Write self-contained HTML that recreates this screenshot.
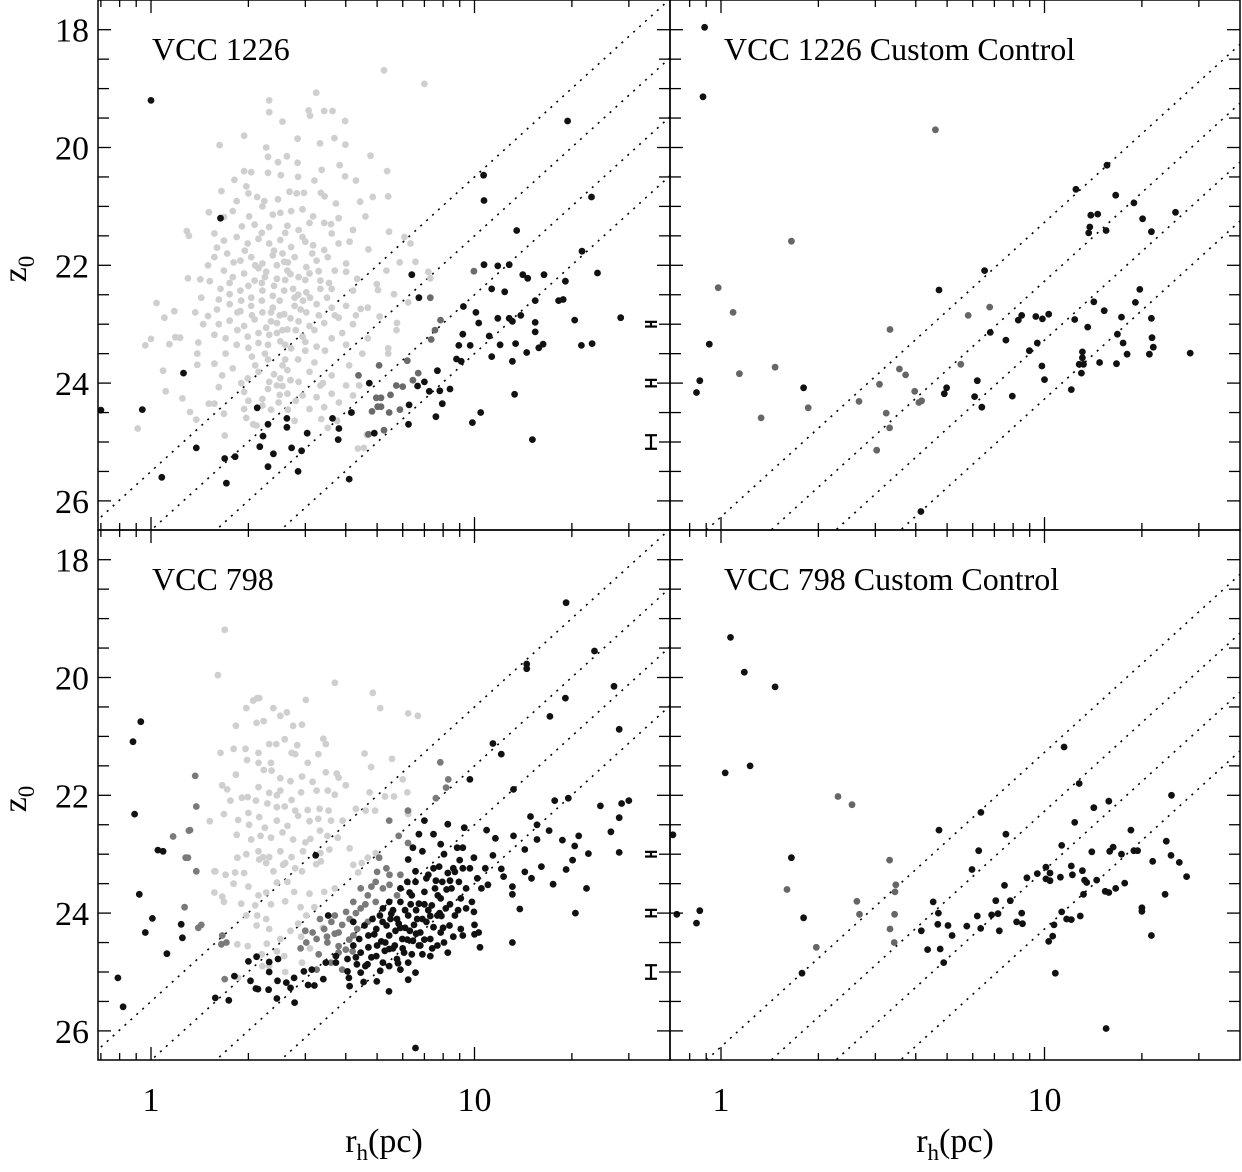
<!DOCTYPE html>
<html><head><meta charset="utf-8"><style>
html,body{margin:0;padding:0;background:#fff;width:1242px;height:1172px;overflow:hidden;}
svg{display:block;font-family:"Liberation Serif",serif;}
</style></head><body>
<svg id="chart" width="1242" height="1172" viewBox="0 0 1242 1172" xmlns="http://www.w3.org/2000/svg"></svg>
<script>
// ---------- data ----------
const yTickLabels=[18,20,22,24,26];
const xTickLabels=[1,10];
const xMinorTicks=[0.7,0.8,0.9,2,3,4,5,6,7,8,9,20,30,40];
const lineZeroPointsLeft=[25.5,26.5,27.5,28.5];
const lineZeroPointsRight=[26.27,27.27,28.27,29.27];
const errorMags=[23,24,25];
const errorSizes=[0.04,0.055,0.115];
const panelTitles=["VCC 1226","VCC 1226 Custom Control","VCC 798","VCC 798 Custom Control"];

const tlLight=[[5.25,18.69],[7.0,18.92],[3.24,19.07],[2.32,19.2],[2.32,19.4],[2.55,19.56],[3.07,19.37],[3.43,19.38],[3.64,19.38],[3.1,19.46],
[1.94,19.8],[1.63,19.96],[2.84,19.85],[3.33,19.93],[3.98,19.55],[3.99,19.95],[3.69,19.84],[4.77,20.14],[5.37,20.4],[2.27,20.0],[2.3,20.16],[2.63,20.15],[2.47,20.25],[1.94,20.4],[2.04,20.42],[2.84,20.26],[3.83,20.3],[3.37,20.38],
[1.81,20.55],[2.3,20.43],[2.52,20.47],[2.85,20.5],[3.2,20.56],[3.98,20.49],[4.3,20.56],[1.65,20.74],[1.97,20.66],[2.0,20.78],[2.13,20.84],[2.24,20.91],[2.47,20.88],[2.68,20.75],[2.82,20.78],[2.97,20.77],[3.35,20.77],[3.44,20.83],[3.73,20.95],[4.43,20.92],[4.85,20.84],[5.41,20.83],[1.51,21.1],[1.84,20.91],[1.68,21.18],[1.79,21.08],[2.01,21.17],[2.21,21.0],[2.38,21.14],[2.51,21.11],[2.71,21.08],[2.94,21.05],[3.17,21.17],[3.43,21.28],[3.8,21.2],[4.6,21.17],[1.29,21.42],[1.31,21.5],[1.57,21.46],[1.91,21.34],[2.09,21.31],[2.32,21.35],[2.64,21.33],[2.86,21.4],[3.09,21.28],[3.62,21.46],[4.21,21.4],[5.44,21.43],
[1.68,21.58],[1.84,21.52],[1.99,21.63],[2.15,21.55],[2.32,21.63],[2.51,21.57],[2.71,21.69],[2.94,21.52],[3.17,21.66],[3.43,21.74],[3.8,21.63],[4.11,21.6],[4.7,21.73],[6.07,21.52],[6.34,21.63],[1.57,21.86],[1.72,21.8],[1.89,21.92],[2.04,21.86],[2.21,21.97],[2.38,21.83],[2.58,21.94],[2.78,21.86],[3.02,22.03],[3.25,21.92],[3.52,21.86],[4.01,21.97],[5.87,21.95],[6.57,21.94],[1.3,22.22],[1.42,22.24],[1.52,22.27],[1.68,22.09],[1.79,22.2],[1.94,22.14],[2.09,22.26],[2.27,22.11],[2.45,22.23],[2.64,22.09],[2.86,22.2],[3.09,22.14],[3.34,22.26],[3.7,22.09],[4.01,22.11],[4.34,22.23],[4.99,22.32],[5.34,22.09],[7.2,22.11],[7.3,22.22],[1.64,22.4],[1.75,22.49],[1.89,22.43],[2.04,22.55],[2.21,22.43],[2.38,22.52],[2.58,22.43],[2.78,22.55],[3.02,22.46],[3.34,22.4],[3.62,22.4],[4.21,22.43],[5.03,22.42],[5.64,22.49],
[1.04,22.64],[1.43,22.55],[1.62,22.58],[1.75,22.66],[1.89,22.78],[2.04,22.69],[2.21,22.8],[2.38,22.72],[2.58,22.83],[2.78,22.69],[3.02,22.8],[3.25,22.66],[3.62,22.72],[4.01,22.69],[4.45,22.74],[4.68,22.72],[6.24,22.63],[1.1,22.89],[1.18,22.78],[1.37,22.8],[1.5,22.86],[1.62,23.0],[1.75,22.94],[1.94,23.03],[2.09,22.92],[2.27,23.06],[2.45,22.98],[2.64,23.09],[2.86,22.95],[3.09,23.03],[3.43,22.98],[3.8,22.89],[4.21,23.0],[5.09,22.87],[5.76,22.98],[5.74,23.1],[0.96,23.36],[1.0,23.25],[1.14,23.34],[1.19,23.22],[1.23,23.23],[1.39,23.5],[1.4,23.31],[1.57,23.18],[1.7,23.24],[1.84,23.35],[1.99,23.21],[2.15,23.32],[2.32,23.18],[2.51,23.29],[2.71,23.41],[2.94,23.21],[3.25,23.38],[3.62,23.24],[4.01,23.35],[4.68,23.24],[5.41,23.41],[5.41,23.5],
[1.09,23.79],[1.11,24.14],[1.25,24.26],[1.39,23.69],[1.57,23.67],[1.66,23.87],[1.79,23.75],[1.99,23.92],[2.15,23.81],[2.32,23.98],[2.45,24.04],[2.51,23.92],[2.64,23.78],[2.86,23.98],[3.09,23.81],[3.34,24.04],[3.62,23.87],[4.01,24.04],[4.4,24.04],[1.62,24.07],[1.94,24.15],[2.21,24.27],[2.64,24.18],[2.94,24.21],[3.25,24.24],[3.62,24.18],[4.21,24.21],[1.32,24.49],[1.51,24.35],[1.57,24.35],[1.68,24.52],[1.94,24.44],[2.21,24.38],[2.48,24.33],[3.09,24.44],[3.43,24.41],[3.81,24.33],
[0.91,24.77],[1.38,24.62],[1.97,24.59],[2.07,24.7],[2.12,24.72],[1.69,24.89],[3.36,24.61],[3.52,24.76],[4.36,25.11],[4.55,25.1],[4.65,24.88],[3.76,24.64],[2.78,24.64],
[2.2,22.3],[2.5,22.6],[2.35,22.95],[2.6,22.25],[2.15,22.05],[2.75,22.4],[2.4,21.75],[2.55,23.1],[2.25,23.5],[2.6,23.6],[2.3,24.1],[2.55,24.05],[2.05,23.55],[1.85,22.8],[2.95,22.6],[2.65,21.95],[2.0,22.35],[1.8,21.95],[3.0,23.45],[2.45,22.0],
[1.95,21.75],[2.1,22.0],[2.25,22.2],[2.4,22.35],[2.55,21.8],[2.7,22.15],[2.85,22.5],[3.0,22.25],[3.15,21.8],[3.3,22.1],[1.9,22.6],[2.05,22.85],[2.2,22.6],[2.35,22.8],[2.5,22.85],[2.7,22.9],[2.9,22.75],[3.1,22.55],[3.3,22.85],[3.5,22.55],
[1.85,23.1],[2.0,23.4],[2.15,23.15],[2.3,23.35],[2.45,23.15],[2.6,23.35],[2.8,23.1],[3.0,23.3],[3.2,23.1],[3.45,23.45],[2.1,23.7],[2.3,23.6],[2.4,23.85],[2.55,23.7],[2.7,23.95],[2.85,23.6],[2.5,24.2],[2.35,24.45],[2.65,24.45],[2.8,24.3],
[1.75,22.3],[1.6,22.75],[1.7,23.5],[1.9,24.0],[3.55,22.3],[3.7,22.85],[3.9,23.15],[4.3,22.85],[4.5,23.5],[3.2,23.65],[3.4,24.0],[1.5,22.0],[1.45,23.0],[1.6,21.7],[2.2,21.45],[2.6,21.45],[3.0,21.6],[3.6,21.3],[2.0,24.3],[4.1,23.7]];
const tlMid=[[9.96,22.1],[7.3,22.55],[7.85,22.93],[7.55,23.1],[7.35,23.26],[6.2,23.62],[6.7,23.83],[6.45,23.95],[6.0,24.06],[5.73,24.04],[5.5,24.2],[5.14,24.25],[4.97,24.25],[5.02,24.4],[5.14,24.4],[4.82,24.48],[5.45,24.5],[5.07,23.7],[4.38,23.87],[4.17,24.5],[4.7,24.87],[5.25,24.8],[5.88,24.45]];
const tlBlack=[[1.0,19.2],[1.64,21.2],[0.7,24.46],[0.94,24.45],[1.26,23.83],[1.08,25.6],[1.38,25.1],[1.69,25.28],[1.71,25.7],[1.82,25.25],[2.13,24.42],[2.3,24.7],[2.22,24.9],[2.17,25.08],[2.39,25.2],[2.3,25.42],[2.63,24.6],[2.63,24.75],[2.72,25.1],[2.92,25.15],[2.85,25.5],[3.04,24.85],[3.64,24.6],[3.81,24.77],[3.79,24.96],[4.16,24.5],[4.1,25.63],[4.73,24.0],[4.9,24.85],[6.4,22.16],[6.73,22.55],[6.28,24.37],[6.25,24.7],[6.67,24.05],[7.0,23.98],[7.25,24.14],[7.68,23.79],[7.81,24.13],[7.95,24.35],[8.4,24.1],[7.6,24.57],[8.8,23.59],[9.1,23.63],[8.94,23.36],[9.24,22.7],[9.2,23.17],[9.7,23.36],[10.1,22.8],[10.3,22.98],[10.67,20.47],[10.7,20.9],[10.7,21.99],[11.3,22.4],[11.1,23.2],[11.3,23.55],[11.8,22.01],[11.8,22.9],[12.0,23.35],[12.4,22.45],[12.8,21.99],[12.8,22.9],[13.1,22.95],[13.4,23.33],[13.1,23.63],[13.3,24.19],[13.9,22.85],[13.5,21.41],[14.1,22.16],[14.6,22.22],[14.5,23.48],[15.4,22.6],[15.4,22.97],[15.4,23.13],[15.8,23.4],[16.3,23.34],[16.4,22.16],[15.1,24.96],[9.85,24.67],[10.45,24.5],[18.2,22.6],[18.8,22.58],[19.1,22.27],[19.4,19.55],[20.4,22.93],[21.4,23.36],[21.5,21.76],[23.0,20.84],[23.1,23.33],[24.0,22.13],[28.3,22.89]];

const blLight=[[1.69,19.19],[1.61,19.96],[3.7,20.09],[4.85,20.26],[3.01,20.38],[2.13,20.35],[2.16,20.35],[1.97,20.52],[2.07,20.39],[6.24,20.61],[6.68,20.65],[5.11,20.52],[2.39,20.52],[2.51,20.65],[2.63,20.59],[2.23,20.74],[2.12,20.77],[2.75,20.82],[2.93,20.8],[1.83,20.82],[3.41,21.04],[3.47,21.13],[1.64,21.28],[1.8,21.21],[1.96,21.21],[1.98,21.4],[2.15,21.28],[2.32,21.13],[2.44,21.13],[2.59,21.05],[2.72,21.28],[2.83,21.15],[2.79,21.3],[3.05,21.45],[3.29,21.3],[4.57,21.29],[5.56,21.38],[4.79,21.52],[6.0,21.73],[6.2,21.95],[2.15,21.45],[2.35,21.45],[2.23,21.57],[2.36,21.58],[2.51,21.71],[2.7,21.76],[2.93,21.68],[3.16,21.77],[3.47,21.61],[3.75,21.63],[3.8,21.7],[4.0,21.83],[1.83,21.65],[1.66,21.83],[1.72,21.9],[2.15,21.86],[2.32,21.96],[2.51,21.92],[2.72,22.08],[2.91,21.95],[3.25,21.92],[3.52,21.92],[3.7,21.99],[4.74,21.95],[5.29,22.02],[5.64,22.02],[1.76,22.09],[1.91,22.04],[1.99,22.03],[2.11,22.09],[2.29,22.14],[2.45,22.2],[2.59,22.19],[2.79,22.26],[3.05,22.25],[3.32,22.23],[3.54,22.26],[4.3,22.23],[4.61,22.26],[4.93,22.26],[6.22,22.26],[6.24,22.32],[1.52,22.44],[1.68,22.32],[1.86,22.42],[2.01,22.5],[2.16,22.37],[2.25,22.55],[2.45,22.43],[2.64,22.52],[2.85,22.35],[3.09,22.44],[3.29,22.4],[3.6,22.43],[3.91,22.43],[1.84,22.67],[2.04,22.75],[2.18,22.69],[2.35,22.72],[2.55,22.63],[2.75,22.75],[3.11,22.74],[3.33,22.6],[3.51,22.69],[3.78,22.72],[1.85,23.06],[1.97,23.0],[2.15,22.95],[2.32,23.05],[2.51,22.95],[2.72,23.05],[2.95,22.95],[3.34,22.98],[3.56,22.92],[4.11,22.9],[4.68,23.06],[4.95,22.98],[1.57,23.29],[1.58,23.29],[1.7,23.35],[1.82,23.31],[1.94,23.32],[2.16,23.09],[2.22,23.05],[2.27,23.15],[2.39,23.29],[2.56,23.18],[2.79,23.24],[2.93,23.29],[3.24,23.17],[3.35,23.12],[4.22,23.18],[4.37,23.31],[4.48,23.15],[1.57,23.65],[1.66,23.72],[1.68,23.81],[1.9,23.84],[1.97,24.04],[2.1,23.87],[2.15,23.7],[2.27,23.65],[2.45,23.48],[2.64,23.47],[2.77,23.64],[3.09,23.67],[3.43,23.64],[3.7,23.58],[2.13,24.04],[2.27,24.1],[2.12,24.21],[2.32,24.27],[2.51,24.44],[2.85,24.18],[3.02,24.04],[2.91,24.4],[1.85,24.53],[1.99,24.56],[2.28,24.52],[2.21,24.9],[2.32,24.9],[2.93,24.84],[1.86,25.1],[2.58,24.73],
[2.0,23.55],[2.35,23.85],[2.6,23.8],[2.9,23.9],[3.2,23.9],[2.7,24.3],[2.45,24.65],[3.1,24.6],[2.2,24.7],[2.6,25.0],[3.4,24.25],[1.8,23.5],[2.45,22.0],[2.0,22.3],[3.0,22.8],[2.6,23.15]];
const blMid=[[1.37,21.67],[1.38,22.19],[1.32,22.59],[1.31,22.6],[1.28,23.06],[1.3,23.06],[1.38,23.29],[1.17,22.7],[1.27,23.9],[1.43,24.2],[1.4,24.25],[1.65,24.53],[1.71,24.5],[1.66,24.38],[1.69,25.12],[7.84,21.44],[8.3,21.73],[8.17,21.87],[7.6,22.05],[6.23,22.26],[5.45,22.43],[5.83,22.69],[6.23,22.81],[5.07,23.06],[5.34,23.24],[5.46,23.35],[5.9,23.35],[4.95,23.47],[5.21,23.58],[4.68,23.7],[4.95,23.81],[4.22,23.81],[4.45,23.92],[4.01,23.98],[4.11,24.1],[3.7,24.04],[3.61,24.15],[3.33,24.1],[3.43,24.27],[3.8,24.33],[4.22,24.38],[3.16,24.33],[3.25,24.44],[3.02,24.5],[3.51,24.5],[3.8,24.56],[4.0,24.62],[4.34,24.27],[4.68,24.15],[5.46,23.52],[5.76,23.7],[3.6,24.84],[3.9,24.96],[3.25,24.96],[3.8,24.67],[4.45,23.58],
[3.5,24.4],[3.9,24.2],[4.3,24.0],[4.6,23.85],[3.0,24.3],[2.9,24.6],[3.3,24.7],[4.1,24.45],[5.0,23.3],[4.8,23.55],[3.7,24.35],[4.2,24.65]];
const blBlack=[[0.79,25.1],[0.82,25.59],[0.88,21.09],[0.93,20.75],[0.89,22.32],[0.92,23.68],[0.96,24.33],[1.01,24.09],[1.05,22.93],[1.09,22.95],[1.12,24.69],[1.24,24.19],[1.25,24.42],[6.57,26.29],[19.2,18.73],[14.5,19.77],[14.5,19.85],[23.5,19.55],[17.1,20.66],[19.1,20.35],[27.0,20.15],[28.0,20.88],[11.4,21.12],[12.1,21.3],[9.68,21.73],[13.2,21.9],[17.7,22.09],[19.5,22.05],[30.0,22.09],[28.5,22.14],[24.5,22.18],[14.9,22.36],[28.0,22.38],[26.4,22.62],[18.7,22.76],[21.0,22.69],[20.4,22.86],[17.0,22.6],[28.0,22.97],[22.5,22.99],[20.1,23.1],[19.2,23.26],[16.1,23.21],[17.5,23.51],[22.2,23.58],[20.5,24.0],[13.8,23.93],[13.1,24.5],[10.4,24.58],[13.1,23.55],[13.1,23.68],[12.3,23.38],[12.1,23.25],[11.4,23.02],[13.2,22.69],[14.3,22.92],[14.3,23.3],[15.0,23.41],[15.6,22.5],[15.6,22.75],[11.6,22.73],[10.9,22.59],[10.0,24.36],[10.3,24.33],[10.0,24.2],
[1.58,25.44],[1.74,25.48],[1.81,25.07],[2.0,24.82],[2.03,25.15],[2.11,25.28],[2.14,25.29],[2.12,24.74],[2.32,24.83],[2.32,25.0],[2.31,25.3],[2.46,25.15],[2.45,25.45],[2.47,24.78],[2.62,25.18],[2.7,25.27],[2.78,25.52],[2.77,25.1],[2.97,24.99],[3.06,25.22],[3.14,24.96],[3.2,25.23],[3.41,25.12],[3.47,24.84],[3.23,23.02],[3.53,24.04],[3.73,24.84],[4.05,24.99],[4.11,25.24],[4.09,25.1],[4.33,24.87],[4.45,25.01],[4.54,25.17],[4.67,24.87],[4.99,25.16],[5.44,25.33],[5.11,24.98],[5.45,24.9],
[4.4,24.44],[4.57,24.21],[4.7,24.58],[4.9,24.36],[4.97,24.73],[5.1,24.04],[5.15,24.48],[5.28,24.64],[5.35,24.21],[5.45,24.38],[5.53,24.01],[5.67,24.55],[5.76,24.78],[5.83,24.18],[5.9,23.81],[5.98,24.44],[6.06,24.67],[6.2,23.47],[6.24,24.04],[6.31,24.3],[6.4,23.7],[6.4,24.7],[6.45,24.47],[6.57,23.29],[6.65,24.1],[6.73,23.84],[6.8,24.33],[6.9,22.95],[6.9,24.7],[7.0,23.64],[7.1,24.15],[7.2,23.35],[7.3,24.44],[7.38,23.87],[7.47,22.66],[7.47,24.24],[7.55,23.58],[7.68,24.04],[7.77,23.21],[7.86,23.75],[7.86,24.33],[7.95,23.47],[8.05,23.0],[8.15,23.92],[8.27,23.32],[8.37,24.21],[8.49,23.58],[8.6,23.24],[8.7,24.04],[8.84,22.89],[8.95,23.47],[9.07,23.75],[9.2,23.24],[9.3,22.55],[9.42,23.58],[9.68,23.24],[9.82,23.81],[9.96,23.06],[10.2,23.41],[10.5,23.58],[10.8,23.24],[11.0,23.52],[6.73,22.66],[7.0,22.43],[6.45,22.89],[6.24,23.09],[7.86,22.83],[9.2,22.89],[8.27,22.49],[7.47,23.24],[7.1,23.41],[6.57,23.47],[5.9,23.58],[5.45,23.81],[5.21,23.92],[4.84,24.1],[5.76,24.1],[5.45,24.61],[6.24,24.84],[6.73,24.55],[7.3,24.73],[8.05,24.5],[9.07,24.27],[9.42,23.92],[9.96,23.98],[4.97,24.27],[4.7,24.38],[4.22,24.55],[5.21,24.84],[5.9,24.96],[4.45,24.67],[3.73,24.73],[4.05,24.78],[4.22,24.15],[6.24,25.13],[6.57,25.01],[9.2,24.38],[8.27,24.67],[7.68,24.55],
[5.6,23.95],[6.1,24.25],[6.6,23.95],[7.2,23.95],[7.8,24.0],[6.9,24.1],[5.3,24.5],[6.0,24.6],[6.5,24.2],[7.0,24.45],[8.4,23.85],[8.9,23.95],[7.6,23.45],[8.2,23.6],[6.35,23.85],[5.7,24.3],[4.6,24.9],[5.0,24.55],[7.9,24.05],[8.6,24.4],
[5.2,24.15],[5.6,24.6],[6.2,24.45],[6.8,24.55],[7.4,24.6],[8.0,24.25],[7.3,24.05],[6.6,24.35],[5.9,24.25],[5.5,24.1],[6.3,23.65],[7.0,23.85],[7.7,23.7],[8.4,23.45],[9.0,23.1],[8.7,23.3],[6.1,23.95],[5.8,24.85],[4.8,24.75],[4.3,24.75]];

const trMid=[[4.6,19.7],[1.65,21.59],[0.98,22.38],[1.09,22.8],[1.14,23.84],[1.47,23.73],[1.33,24.59],[1.86,24.42],[2.67,24.31],[3.09,24.02],[3.03,25.14],[3.24,24.51],[3.32,24.76],[3.33,23.09],[3.56,23.76],[3.72,23.86],[3.97,24.14],[4.09,24.33],[4.17,24.3],[5.51,23.68],[5.81,22.85],[6.77,22.71]];
const trBlack=[[0.89,17.96],[0.88,19.14],[0.92,23.34],[0.86,23.96],[0.84,24.16],[1.8,24.08],[4.72,22.42],[6.53,22.09],[6.8,23.14],[7.6,23.27],[7.95,24.22],[6.2,23.96],[6.08,24.23],[6.4,24.41],[4.9,24.18],[4.98,24.08],[8.3,22.93],[8.5,22.85],[8.98,23.45],[9.4,22.87],[9.5,23.32],[9.85,22.91],[10.3,22.83],[9.82,23.71],[10.0,23.94],[4.15,26.18],[12.5,20.71],[15.6,20.3],[16.6,20.81],[18.9,20.94],[20.1,21.21],[21.4,21.43],[25.4,21.1],[13.9,21.15],[14.6,21.13],[13.8,21.35],[13.7,21.45],[15.5,21.41],[12.4,22.92],[13.6,23.05],[14.2,22.62],[15.3,22.77],[19.1,22.63],[19.7,22.41],[17.3,22.88],[21.4,22.9],[16.8,23.17],[17.5,23.32],[18.0,23.51],[21.5,23.23],[21.7,23.39],[21.1,23.51],[16.7,23.67],[14.8,23.65],[13.1,23.47],[13.1,23.57],[12.8,23.68],[13.2,23.68],[13.0,23.83],[12.1,24.11],[28.2,23.49]];

const brMid=[[2.3,22.02],[2.54,22.16],[3.32,23.1],[3.47,23.52],[3.45,23.64],[3.44,24.02],[2.63,23.8],[2.68,24.02],[1.6,23.6],[1.97,24.58],[3.33,24.27],[3.43,24.5]];
const brBlack=[[1.07,19.32],[1.18,19.91],[1.47,20.16],[1.03,21.62],[1.23,21.5],[0.71,22.67],[0.73,24.02],[0.84,24.17],[0.86,23.96],[1.65,23.06],[1.8,24.08],[1.78,25.02],[4.72,22.59],[6.36,22.29],[6.26,22.94],[7.6,22.66],[5.97,23.26],[7.52,23.53],[7.07,23.79],[7.84,23.79],[7.18,24.01],[6.86,24.03],[6.2,24.05],[6.35,24.26],[7.25,24.3],[8.2,24.15],[8.55,24.18],[8.5,24.0],[5.75,24.22],[5.18,24.38],[5.03,24.21],[4.68,24.19],[4.7,24.0],[4.53,23.81],[4.16,24.3],[4.35,24.62],[4.76,24.61],[4.88,24.84],[8.82,23.4],[9.5,23.33],[10.1,23.22],[10.4,23.32],[10.1,23.42],[10.4,23.45],[11.2,23.39],[11.3,22.85],[11.5,21.18],[12.8,21.8],[12.4,22.46],[14.2,22.21],[15.8,22.1],[18.5,22.59],[12.1,23.2],[12.2,23.35],[13.1,23.28],[13.3,23.44],[13.5,23.48],[13.2,23.68],[14.0,22.96],[14.5,23.44],[15.9,22.95],[16.3,22.88],[17.3,23.0],[16.6,23.58],[15.4,23.63],[15.8,23.65],[17.7,23.49],[18.9,22.94],[19.4,22.94],[21.6,23.12],[23.8,22.78],[24.7,22.0],[24.6,23.02],[26.1,23.14],[27.5,23.38],[23.6,23.68],[20.0,23.91],[20.0,23.97],[21.4,24.38],[11.3,23.98],[11.7,24.1],[12.1,24.11],[12.9,24.05],[10.7,24.2],[10.6,24.39],[10.3,24.48],[10.8,25.02],[15.5,25.96]];

// ---------- drawing ----------
const NS='http://www.w3.org/2000/svg';
const svg=document.getElementById('chart');
function mk(tag,attrs,parent){const e=document.createElementNS(NS,tag);for(const k in attrs)e.setAttribute(k,attrs[k]);(parent||svg).appendChild(e);return e;}
const DEC=323.5, MAG=58.9;
const panels=[
 {key:'top-left',x0:98,x1:670,y0:0,y1:530,xOne:151,z18:29.7,lines:lineZeroPointsLeft,errbars:true,labelsY:true,labelsX:false,title:panelTitles[0],sets:[[tlLight,'#cfcfcf'],[tlMid,'#6a6a6a'],[tlBlack,'#111']]},
 {key:'top-right',x0:670,x1:1240,y0:0,y1:530,xOne:721,z18:29.7,lines:lineZeroPointsRight,errbars:false,labelsY:false,labelsX:false,title:panelTitles[1],sets:[[trMid,'#666'],[trBlack,'#111']]},
 {key:'bottom-left',x0:98,x1:670,y0:530,y1:1060,xOne:151,z18:559.7,lines:lineZeroPointsLeft,errbars:true,labelsY:true,labelsX:true,title:panelTitles[2],sets:[[blLight,'#cfcfcf'],[blMid,'#7a7a7a'],[blBlack,'#111']]},
 {key:'bottom-right',x0:670,x1:1240,y0:530,y1:1060,xOne:721,z18:559.7,lines:lineZeroPointsRight,errbars:false,labelsY:false,labelsX:true,title:panelTitles[3],sets:[[brMid,'#666'],[brBlack,'#111']]}
];
panels.forEach((p,pi)=>{
 const xs=r=>p.xOne+DEC*Math.log10(r);
 const ys=z=>p.z18+MAG*(z-18);
 const g=mk('g',{});
 
 
 const cid='clip'+pi;
 const cp=mk('clipPath',{id:cid},g);mk('rect',{x:p.x0,y:p.y0,width:p.x1-p.x0,height:p.y1-p.y0},cp);
 p.lines.forEach((c,i)=>{
  const rA=0.5,rB=50;
  const l=mk('line',{x1:xs(rA),y1:ys(c-5*Math.log10(rA)),x2:xs(rB),y2:ys(c-5*Math.log10(rB)),stroke:'#000','stroke-width':1.6,'stroke-dasharray':'2 6','clip-path':'url(#'+cid+')'},g);
  
  
 });
 p.sets.forEach(([arr,col])=>{
  arr.forEach(([r,z])=>{
   const c=mk('circle',{cx:xs(r).toFixed(1),cy:ys(z).toFixed(1),r:3.4,fill:col,'clip-path':'url(#'+cid+')'},g);
   
   
  });
 });
 if(p.errbars){
  errorMags.forEach((m,i)=>{
   const e=errorSizes[i]*MAG, x=651, y=ys(m);
   const eg=mk('g',{stroke:'#000','stroke-width':2.2},g);
   
   
   mk('line',{x1:x,y1:y-e,x2:x,y2:y+e},eg);
   mk('line',{x1:x-6,y1:y-e,x2:x+6,y2:y-e},eg);
   mk('line',{x1:x-6,y1:y+e,x2:x+6,y2:y+e},eg);
  });
 }
 const fr=mk('rect',{x:p.x0,y:p.y0,width:p.x1-p.x0,height:p.y1-p.y0,fill:'none',stroke:'#000','stroke-width':1.5},g);
 
 
 for(let z=17.5;z<=26.5;z+=0.5){
  const y=ys(z); if(y<p.y0+2||y>p.y1-2)continue;
  const len=Number.isInteger(z)&&z%2===0?13:11;
  mk('line',{x1:p.x0,y1:y,x2:p.x0+len,y2:y,stroke:'#000','stroke-width':1.3},g);
  mk('line',{x1:p.x1,y1:y,x2:p.x1-len,y2:y,stroke:'#000','stroke-width':1.3},g);
 }
 if(p.labelsY){
  yTickLabels.forEach(v=>{
   const t=mk('text',{x:89,y:ys(v)+12,'text-anchor':'end','font-size':34},g);
   t.textContent=v;
   
   
  });
  const yl=mk('text',{x:0,y:0,'font-size':34,transform:'translate(26,'+((p.y0+p.y1)/2+4)+') rotate(-90)','text-anchor':'middle'},g);
  yl.innerHTML='z<tspan font-size="23" dy="8">0</tspan>';
  
  
 }
 xTickLabels.concat(xMinorTicks).forEach(r=>{
  const x=xs(r); if(x<p.x0+2||x>p.x1-2)return;
  const len=xTickLabels.includes(r)?13:7;
  mk('line',{x1:x,y1:p.y1,x2:x,y2:p.y1-len,stroke:'#000','stroke-width':1.3},g);
  mk('line',{x1:x,y1:p.y0,x2:x,y2:p.y0+len,stroke:'#000','stroke-width':1.3},g);
 });
 if(p.labelsX){
  xTickLabels.forEach(r=>{
   const t=mk('text',{x:xs(r),y:1111,'text-anchor':'middle','font-size':34},g);
   t.textContent=r;
   
   
  });
  const xl=mk('text',{x:(p.x0+p.x1)/2,y:1152,'text-anchor':'middle','font-size':34},g);
  xl.innerHTML='r<tspan font-size="23" dy="8">h</tspan><tspan dy="-8">(pc)</tspan>';
  
  
 }
 const tt=mk('text',{x:p.x0+54,y:p.y0+60,'font-size':32},g);
 tt.textContent=p.title;
 
 
});
</script>
</body></html>
